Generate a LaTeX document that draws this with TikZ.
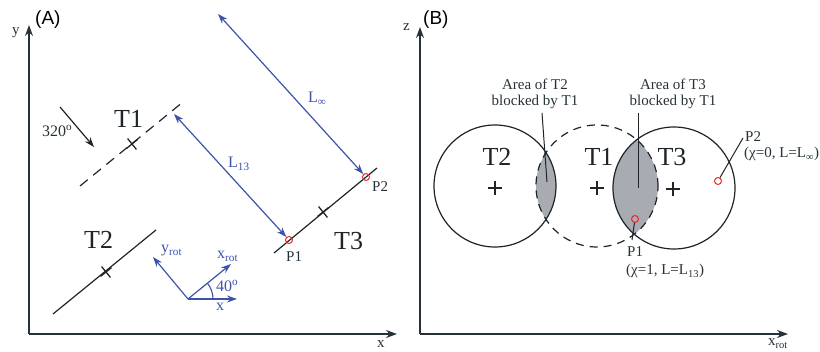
\documentclass[tikz,border=0pt]{standalone}
\usepackage{fontspec}
\setmainfont{Liberation Serif}
\newfontfamily\labsans{Liberation Sans}
\usetikzlibrary{arrows.meta}
\definecolor{axisc}{RGB}{38,50,56}
\definecolor{inkc}{RGB}{30,36,40}
\definecolor{bluec}{RGB}{62,82,168}
\definecolor{redc}{RGB}{232,40,40}
\definecolor{grayc}{RGB}{168,172,178}
\tikzset{
  axisline/.style={draw=axisc, line width=1.3pt, -{Stealth[length=11pt,width=8pt]}},
  objline/.style={draw=inkc, line width=1.2pt},
  barrow/.style={draw=bluec, line width=1.2pt, {Stealth[length=10pt,width=7pt]}-{Stealth[length=10pt,width=7pt]}},
  bone/.style={draw=bluec, line width=1.2pt, -{Stealth[length=10pt,width=7pt]}},
  lbl/.style={inner sep=0pt, text=axisc, font=\fontsize{15}{16}\selectfont},
  blbl/.style={inner sep=0pt, text=bluec, font=\fontsize{16}{17}\selectfont},
  biglbl/.style={inner sep=0pt, text=inkc, font=\fontsize{26}{28}\selectfont},
  panel/.style={inner sep=0pt, text=black, font=\labsans\fontsize{19}{20}\selectfont},
  redpt/.style={circle, draw=redc, line width=1pt, minimum size=7pt, inner sep=0pt},
  xmark/.pic={\draw[draw=inkc, line width=1.3pt] (-7pt,0)--(7pt,0) (0,-7pt)--(0,7pt);},
  plusmark/.pic={\draw[draw=inkc, line width=1.3pt] (-7pt,0)--(7pt,0) (0,-7pt)--(0,7pt);}
}
\begin{document}
\begin{tikzpicture}[x=1pt,y=-1pt]
\useasboundingbox (0,0) rectangle (820,352);

% ---------------- Panel A ----------------
\node[panel, anchor=base west] (pa) at (35,25) {(A)};
\coordinate (oA) at (29,334);
\coordinate (yAt) at (29,25);
\coordinate (xAt) at (397,334);
\draw[axisline] (oA) -- (yAt);
\draw[axisline] (oA) -- (xAt);
\node[lbl, anchor=base west] (ylab) at (12,35) {y};
\node[lbl, anchor=base west] (xlab) at (377,348) {x};

% T1 dashed
\coordinate (t1a) at (80,186);
\coordinate (t1b) at (183,102);
\draw[objline, dash pattern=on 10pt off 7pt] (t1a) -- (t1b);
\pic[rotate=39] at (132,144) {xmark};
\node[biglbl, anchor=base west] (t1lab) at (114,128) {T1};

% wind arrow
\coordinate (wa) at (60,107);
\coordinate (wb) at (94,147);
\draw[objline, -{Stealth[length=10pt,width=7pt]}] (wa) -- (wb);
\node[lbl, anchor=base west, font=\fontsize{16}{17}\selectfont] (wlab) at (42,137) {320\textsuperscript{o}};

% T2
\coordinate (t2a) at (53,314);
\coordinate (t2b) at (156,230);
\draw[objline] (t2a) -- (t2b);
\pic[rotate=39] at (106,272) {xmark};
\node[biglbl, anchor=base west] (t2lab) at (84,249) {T2};

% T3
\coordinate (t3a) at (274,253);
\coordinate (t3b) at (377,168);
\draw[objline] (t3a) -- (t3b);
\pic[rotate=39] at (323,212) {xmark};
\node[biglbl, anchor=base west] (t3lab) at (334,250) {T3};
\node[redpt] (p1a) at (289,240) {};
\node[redpt] (p2a) at (366,177) {};
\node[lbl, anchor=base west] (p1alab) at (286,262) {P1};
\node[lbl, anchor=base west] (p2alab) at (372,192) {P2};

% distance arrows
\coordinate (l13s) at (174,114);
\coordinate (linfs) at (218,14);
\draw[barrow] (l13s) -- (p1a);
\draw[barrow] (linfs) -- (p2a);
\node[blbl, anchor=base west] (l13lab) at (228,168) {L\textsubscript{13}};
\node[blbl, anchor=base west] (linflab) at (308,103) {L\textsubscript{∞}};

% rotated axes
\coordinate (ro) at (188,299);
\coordinate (rx) at (237,299);
\coordinate (rxr) at (231,264);
\coordinate (ryr) at (153,257);
\draw[bone] (ro) -- (rx);
\draw[bone] (ro) -- (rxr);
\draw[bone] (ro) -- (ryr);
\draw[draw=bluec, line width=1.1pt] (213,299) arc[start angle=0, end angle=39, radius=25pt];
\node[blbl, anchor=base west] (yrotlab) at (161,253) {y\textsubscript{rot}};
\node[blbl, anchor=base west] (xrotlab) at (217,259) {x\textsubscript{rot}};
\node[blbl, anchor=base west] (anglab) at (216,292) {40\textsuperscript{o}};
\node[blbl, anchor=base west] (xrlab) at (216,311) {x};

% ---------------- Panel B ----------------
\node[panel, anchor=base west] (pb) at (423,25) {(B)};
\coordinate (oB) at (420,334);
\coordinate (zBt) at (420,27);
\coordinate (xBt) at (788,334);
\draw[axisline] (oB) -- (zBt);
\draw[axisline] (oB) -- (xBt);
\node[lbl, anchor=base west] (zlab) at (403,31) {z};
\node[lbl, anchor=base west] (xblab) at (768,346) {x\textsubscript{rot}};

% lenses
\begin{scope}
  \clip (495,186) circle[radius=61pt];
  \fill[grayc] (597,186) circle[radius=61pt];
\end{scope}
\begin{scope}
  \clip (674,188) circle[radius=61pt];
  \fill[grayc] (597,186) circle[radius=61pt];
\end{scope}

% circles
\node[circle, minimum size=122pt, inner sep=0pt, draw=inkc, line width=1.2pt] (c2) at (495,186) {};
\node[circle, minimum size=122pt, inner sep=0pt, draw=inkc, line width=1.2pt, dash pattern=on 8pt off 6pt] (c1) at (597,186) {};
\node[circle, minimum size=122pt, inner sep=0pt, draw=inkc, line width=1.2pt] (c3) at (674,188) {};
\pic at (495,188) {plusmark};
\pic at (597,188) {plusmark};
\pic at (673,189) {plusmark};
\node[biglbl, anchor=base] (bt2) at (497,166) {T2};
\node[biglbl, anchor=base] (bt1) at (599,166) {T1};
\node[biglbl, anchor=base] (bt3) at (672,166) {T3};

% area labels
\node[lbl, anchor=north, align=center, font=\fontsize{15}{16}\selectfont] (ar2) at (535,79) {Area of T2\\blocked by T1};
\node[lbl, anchor=north, align=center, font=\fontsize{15}{16}\selectfont] (ar3) at (673,79) {Area of T3\\blocked by T1};
\coordinate (a2s) at (542,113);
\coordinate (a2e) at (547,182);
\coordinate (a3s) at (638,113);
\coordinate (a3e) at (638,188);
\draw[objline, line width=1pt] (a2s) -- (a2e);
\draw[objline, line width=1pt] (a3s) -- (a3e);

% points
\node[redpt] (p1b) at (635,219) {};
\node[redpt] (p2b) at (718,181) {};
\coordinate (p1lead) at (632,240);
\coordinate (p2lead) at (743,138);
\draw[objline, line width=1pt] (p1b) -- (p1lead);
\draw[objline, line width=1pt] (p2b) -- (p2lead);
\node[lbl, anchor=base west] (p1blab) at (627,257) {P1};
\node[lbl, anchor=base west] (p1bdesc) at (626,275) {(χ=1, L=L\textsubscript{13})};
\node[lbl, anchor=base west] (p2blab) at (745,142) {P2};
\node[lbl, anchor=base west] (p2bdesc) at (744,158) {(χ=0, L=L\textsubscript{∞})};
\end{tikzpicture}
\end{document}
